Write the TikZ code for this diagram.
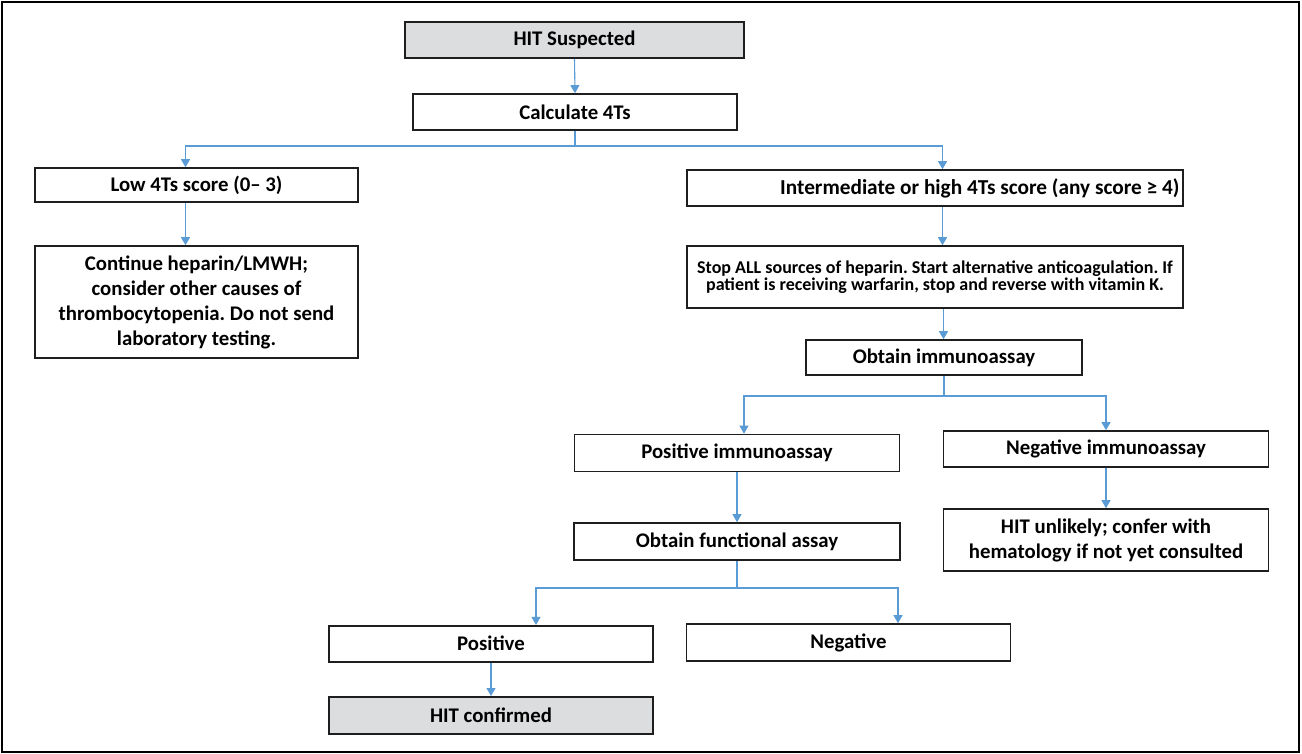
\documentclass[tikz,border=0pt]{standalone}
\usepackage{fontspec}
\setmainfont{Carlito}
\usetikzlibrary{arrows.meta}
\definecolor{lnblue}{HTML}{5B9BD5}
\definecolor{boxgray}{HTML}{DCDDDF}
\definecolor{boxline}{HTML}{1E1E1E}
\frenchspacing
\tikzset{
  box/.style={draw=boxline, line width=1.6pt, inner sep=0pt, align=center,
    font=\fontsize{20.8}{25}\selectfont\bfseries\frenchspacing},
  smallbox/.style={box, font=\fontsize{18}{17.5}\selectfont\bfseries\frenchspacing},
  graybox/.style={box, fill=boxgray},
  conn/.style={draw=lnblue, line width=1.1pt},
  arr/.style={conn, -{Triangle[width=9pt,length=8pt]}},
}
\begin{document}
\begin{tikzpicture}[x=1pt,y=-1pt]
\useasboundingbox (0,0) rectangle (1302,754);
\draw[line width=2pt, black] (2,2) rectangle (1299,752);

\node[graybox, minimum width=339, minimum height=36] (sus) at (574.5,40) {HIT Suspected};
\node[box, minimum width=324, minimum height=36] (calc) at (575,112) {Calculate 4Ts};
\node[box, minimum width=323, minimum height=34] (low) at (196.5,185) {Low 4Ts score (0– 3)};
\node[box, minimum width=323, minimum height=112] (cont) at (196.5,302) {Continue heparin/LMWH;\\consider other causes of\\thrombocytopenia. Do not send\\laboratory testing.};
\node[box, minimum width=496, minimum height=36, text width=489, align=flush right, font=\fontsize{21.3}{25}\selectfont\bfseries\frenchspacing] (inter) at (935,188) {Intermediate or high 4Ts score (any score ≥ 4)};
\node[smallbox, minimum width=496, minimum height=62] (stop) at (935,277) {Stop ALL sources of heparin. Start alternative anticoagulation. If\\patient is receiving warfarin, stop and reverse with vitamin K.};
\node[box, minimum width=276, minimum height=35] (obt) at (944,357.5) {Obtain immunoassay};
\node[box, minimum width=325, minimum height=37] (pos) at (737,453) {Positive immunoassay};
\node[box, minimum width=325, minimum height=36] (neg) at (1106,449) {Negative immunoassay};
\node[box, minimum width=326, minimum height=37] (func) at (737,541.5) {Obtain functional assay};
\node[box, minimum width=325, minimum height=62] (unl) at (1106,540) {HIT unlikely; confer with\\hematology if not yet consulted};
\node[box, minimum width=324, minimum height=36] (posf) at (491,643.7) {Positive};
\node[box, minimum width=324, minimum height=37] (negf) at (848.5,642.5) {Negative};
\node[graybox, minimum width=324, minimum height=37] (conf) at (491,715.3) {HIT confirmed};

\coordinate (b1) at (575,146);
\coordinate (b2) at (944,396);
\coordinate (b3) at (737,588);

\draw[arr] (sus.south) -- (calc.north);
\draw[conn] (calc.south) -- (b1);
\draw[arr] (b1) -| (low.north -| 185.5,0);
\draw[arr] (b1) -| (inter.north -| 942.5,0);
\draw[arr] (low.south -| 185.5,0) -- (cont.north -| 185.5,0);
\draw[arr] (inter.south -| 942.5,0) -- (stop.north -| 942.5,0);
\draw[arr] (stop.south -| 943.5,0) -- (obt.north -| 943.5,0);
\draw[conn] (obt.south) -- (b2);
\draw[arr] (b2) -| (pos.north -| 744,0);
\draw[arr] (b2) -| (neg.north -| 1106,0);
\draw[arr] (pos.south) -- (func.north);
\draw[arr] (neg.south) -- (unl.north);
\draw[conn] (func.south) -- (b3);
\draw[arr] (b3) -| (posf.north -| 536,0);
\draw[arr] (b3) -| (negf.north -| 898,0);
\draw[arr] (posf.south) -- (conf.north);
\end{tikzpicture}
\end{document}
